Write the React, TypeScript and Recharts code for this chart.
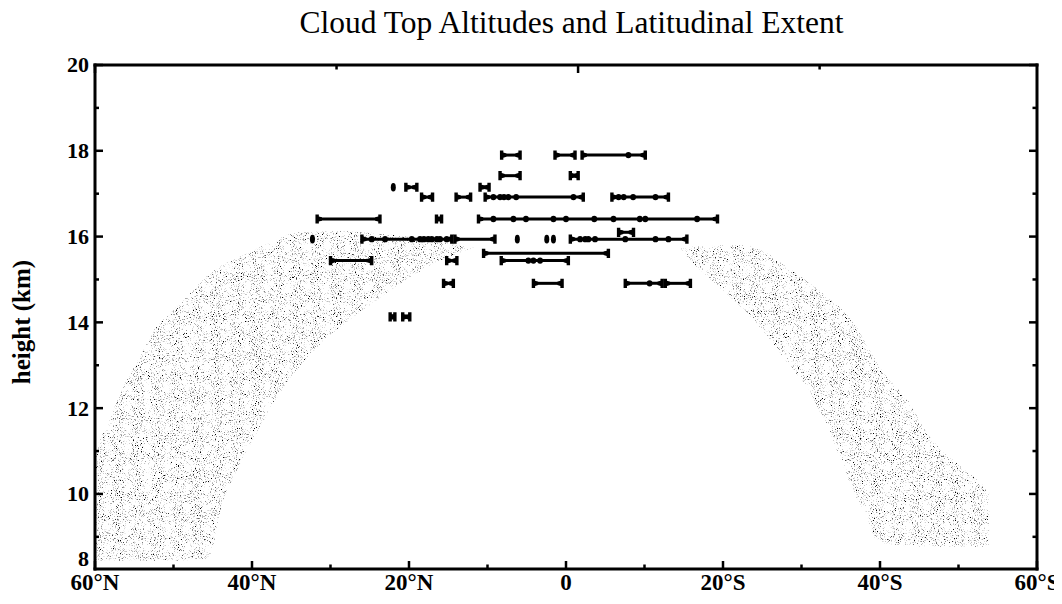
import React from 'react';
import { ComposedChart, XAxis, YAxis, Area, Scatter } from 'recharts';

// ---------- axis ticks ----------
const xTicks = [-60, -50, -40, -30, -20, -10, 0, 10, 20, 30, 40, 50, 60];
const xTickLabels = ['60°N', '', '40°N', '', '20°N', '', '0', '', '20°S', '', '40°S', '', '60°S'];
const yTicks = [8.25, 9, 10, 11, 12, 13, 14, 15, 16, 17, 18, 19, 20];
const yTickLabels = ['8', '', '10', '', '12', '', '14', '', '16', '', '18', '', '20'];

// ---------- shaded bands (latitude: N negative, S positive) ----------
const northLat = [-60, -59, -56.4, -54.3, -52.2, -48.8, -45.8, -45.2, -43.7, -41.3, -39.0, -36.5, -35.2, -33.5, -30.9, -27.1, -24.1, -21.1, -16.9, -13.9, -11.8];
const northLow = [8.45, 8.45, 8.45, 8.45, 8.45, 8.45, 8.5, 8.6, 9.86, 10.8, 11.57, 12.35, 12.7, 13.05, 13.59, 14.13, 14.52, 14.91, 15.38, 15.61, 15.73];
const northHigh = [11.0, 11.4, 12.5, 13.2, 13.9, 14.5, 15.07, 15.15, 15.35, 15.55, 15.75, 15.95, 16.08, 16.1, 16.12, 16.12, 16.08, 16.02, 15.92, 15.8, 15.74];

const southLat = [14.5, 15.8, 18.0, 20.9, 23.5, 25.6, 28.6, 30.7, 33.3, 35.0, 36.7, 38.4, 39.2, 40.5, 43.5, 46.0, 47.7, 50.3, 53.9];
const southLow = [15.7, 15.45, 15.07, 14.6, 14.15, 13.7, 12.97, 12.5, 11.57, 10.8, 10.02, 9.47, 9.0, 8.85, 8.77, 8.77, 8.77, 8.77, 8.77];
const southHigh = [15.72, 15.76, 15.78, 15.8, 15.8, 15.61, 15.23, 14.96, 14.6, 14.33, 13.98, 13.43, 13.2, 12.81, 12.2, 11.41, 11.02, 10.64, 10.1];

// ---------- cloud top observations: one row per altitude ----------
const rowHeights = [17.9, 17.42, 17.15, 16.92, 16.41, 16.1, 15.94, 15.61, 15.44, 14.91, 14.13];
const rowSegments: number[][][] = [
  [[-8.2, -5.85], [-1.4, 1.15], [2.05, 7.95, 10.1]],
  [[-8.4, -5.85], [0.55, 1.55]],
  [[-22.0], [-20.4, -19.0], [-10.95, -9.8]],
  [[-18.4, -17.0], [-14.0, -12.15], [-10.3, -9.25, -8.4, -7.9, -7.35, -6.35, 0.95, 2.2], [5.85, 6.7, 7.35, 8.55, 11.4, 13.05]],
  [[-31.7, -23.7], [-16.5, -15.85], [-11.15, -9.25, -6.7, -5.1, -1.6, 0, 3.6, 6.05, 9.4, 10.1, 16.7, 19.3]],
  [[6.7, 8.6]],
  [[-32.3], [-26.0, -24.75, -23.05, -19.65, -18.6, -18.1, -17.55, -17.1, -16.45, -16.05, -15.2, -14.55], [-14.15, -9.05], [-6.2], [-2.45], [-1.6], [0.55, 1.8, 2.45, 2.85, 3.7, 7.55, 11.4, 13.05, 15.4]],
  [[-10.5, 5.4]],
  [[-30.0, -24.75], [-15.2, -13.9], [-8.25, -4.8, -4.15, -3.3, 0.3]],
  [[-15.6, -14.35], [-4.15, -0.5], [7.55, 10.65, 12.25], [12.65, 15.85]],
  [[-22.4, -21.8], [-20.8, -19.9]],
];

// ---------- derived tables ----------
const bandData = [
  ...northLat.map((lat, i) => ({ lat, north: [northLow[i], northHigh[i]] })),
  ...southLat.map((lat, i) => ({ lat, south: [southLow[i], southHigh[i]] })),
];

type Pt = { lat: number; h: number; role: string };
const segmentData: Pt[][] = rowHeights.flatMap((h, r) =>
  rowSegments[r].map((lats) =>
    lats.map((lat, i) => ({
      lat,
      h,
      role: lats.length === 1 ? 'dot' : i === 0 ? 'start' : i === lats.length - 1 ? 'end' : 'mid',
    }))
  )
);

const FONT = '"Liberation Serif", "Times New Roman", serif';
const axisLine = { stroke: '#000', strokeWidth: 3, strokeLinecap: 'square' as const };

const Mark = (props: any) => {
  const { cx, cy, payload } = props;
  if (cx == null || cy == null) return null;
  const role = payload?.role;
  if (role === 'dot') return <ellipse cx={cx} cy={cy} rx={2.5} ry={4.3} fill="#000" />;
  if (role === 'mid') return <ellipse cx={cx} cy={cy} rx={2.9} ry={3.2} fill="#000" />;
  const s = role === 'start' ? 1 : -1;
  const d = `M${cx - 1.7 * s},${cy - 4.6} L${cx + 1.7 * s},${cy - 4.6} L${cx + 1.7 * s},${cy - 2.6} L${cx + 4.8 * s},${cy - 1.7} L${cx + 4.8 * s},${cy + 1.7} L${cx + 1.7 * s},${cy + 2.6} L${cx + 1.7 * s},${cy + 4.6} L${cx - 1.7 * s},${cy + 4.6} Z`;
  return <path d={d} fill="#000" />;
};

const tickText = { fontFamily: FONT, fontWeight: 700, fill: '#000' } as const;

const BottomTick = (p: any) => {
  const { x, y, payload } = p;
  const i = xTicks.indexOf(payload.value);
  const major = xTickLabels[i] !== '';
  return (
    <g>
      <line x1={x} x2={x} y1={y} y2={y - (major ? 8 : 4.5)} stroke="#000" strokeWidth={2.5} />
      {major && (
        <text x={x} y={y + 21} textAnchor="middle" fontSize={23} {...tickText}>
          {xTickLabels[i]}
        </text>
      )}
    </g>
  );
};

const TopTick = (p: any) => {
  const { x, y, payload } = p;
  const i = xTicks.indexOf(payload.value);
  const major = xTickLabels[i] !== '';
  return <line x1={x} x2={x} y1={y} y2={y + (major ? 8 : 4.5)} stroke="#000" strokeWidth={2.5} />;
};

const LeftTick = (p: any) => {
  const { x, y, payload } = p;
  const i = yTicks.indexOf(payload.value);
  const major = yTickLabels[i] !== '';
  const first = i === 0;
  return (
    <g>
      {!first && <line x1={x} x2={x + (major ? 8 : 4)} y1={y} y2={y} stroke="#000" strokeWidth={2.5} />}
      {major && (
        <text
          x={x - 6}
          y={first ? y - 3 : y}
          dy={first ? 0 : '0.34em'}
          textAnchor="end"
          fontSize={22}
          {...tickText}
        >
          {yTickLabels[i]}
        </text>
      )}
    </g>
  );
};

const RightTick = (p: any) => {
  const { x, y, payload } = p;
  const i = yTicks.indexOf(payload.value);
  const major = yTickLabels[i] !== '';
  if (i === 0) return <g />;
  return <line x1={x} x2={x - (major ? 8 : 4.5)} y1={y} y2={y} stroke="#000" strokeWidth={2.5} />;
};

export default function App() {
  return (
    <div style={{ position: 'relative', width: 1046, height: 588, background: '#fff' }}>
      <style>{'.recharts-surface{overflow:visible}'}</style>
      <svg width={0} height={0} style={{ position: 'absolute' }}>
        <defs>
          <filter id="noiseF" x="0" y="0" width="100%" height="100%">
            <feTurbulence type="fractalNoise" baseFrequency="0.95" numOctaves="2" seed="4" />
            <feColorMatrix
              type="matrix"
              values="0 -2.2 0 0 1.45  0 -2.2 0 0 1.45  0 -2.2 0 0 1.45  8 0 0 0 -4.55"
            />
          </filter>
          <pattern id="stipple" patternUnits="userSpaceOnUse" width="600" height="600">
            <rect width="600" height="600" fill="#000" filter="url(#noiseF)" />
          </pattern>
        </defs>
      </svg>
      <div
        style={{
          position: 'absolute',
          left: 563.5,
          top: -1,
          transform: 'translateX(-50%)',
          whiteSpace: 'nowrap',
          fontFamily: FONT,
          fontSize: 31.5,
          lineHeight: '31px',
          color: '#000',
        }}
      >
        Cloud Top Altitudes and Latitudinal Extent
      </div>
      <div
        style={{
          position: 'absolute',
          left: 12.5,
          top: 313.5,
          transform: 'translate(-50%, -50%) rotate(-90deg)',
          whiteSpace: 'nowrap',
          fontFamily: FONT,
          fontWeight: 700,
          fontSize: 25,
          lineHeight: '25px',
          color: '#000',
        }}
      >
        height (km)
      </div>
      <ComposedChart
        width={1046}
        height={588}
        data={bandData}
        margin={{ top: 47, right: 7, bottom: 0, left: 27 }}
      >
        <XAxis
          xAxisId={0}
          type="number"
          dataKey="lat"
          domain={[-60, 60]}
          allowDataOverflow
          ticks={xTicks}
          interval={0}
          tickLine={false}
          tickSize={0}
          tickMargin={0}
          axisLine={axisLine}
          tick={BottomTick}
          height={27}
        />
        <XAxis
          xAxisId="top"
          orientation="top"
          type="number"
          domain={[-60, 60]}
          allowDataOverflow
          ticks={xTicks}
          interval={0}
          tickLine={false}
          tickSize={0}
          tickMargin={0}
          axisLine={axisLine}
          tick={TopTick}
          height={10}
        />
        <YAxis
          yAxisId={0}
          type="number"
          dataKey="h"
          domain={[8.25, 20]}
          allowDataOverflow
          ticks={yTicks}
          interval={0}
          tickLine={false}
          tickSize={0}
          tickMargin={0}
          axisLine={axisLine}
          tick={LeftTick}
          width={60}
        />
        <YAxis
          yAxisId="right"
          orientation="right"
          type="number"
          domain={[8.25, 20]}
          allowDataOverflow
          ticks={yTicks}
          interval={0}
          tickLine={false}
          tickSize={0}
          tickMargin={0}
          axisLine={axisLine}
          tick={RightTick}
          width={10}
        />
        <Area
          type="linear"
          dataKey="north"
          xAxisId={0}
          yAxisId={0}
          stroke="none"
          fill="url(#stipple)"
          fillOpacity={1}
          isAnimationActive={false}
          dot={false}
          activeDot={false}
        />
        <Area
          type="linear"
          dataKey="south"
          xAxisId={0}
          yAxisId={0}
          stroke="none"
          fill="url(#stipple)"
          fillOpacity={1}
          isAnimationActive={false}
          dot={false}
          activeDot={false}
        />
        {segmentData.map((pts, i) => (
          <Scatter
            key={i}
            data={pts}
            dataKey="h"
            xAxisId={0}
            yAxisId={0}
            line={{ stroke: '#000', strokeWidth: 3 }}
            lineType="joint"
            shape={Mark}
            isAnimationActive={false}
            legendType="none"
          />
        ))}
      </ComposedChart>
    </div>
  );
}
